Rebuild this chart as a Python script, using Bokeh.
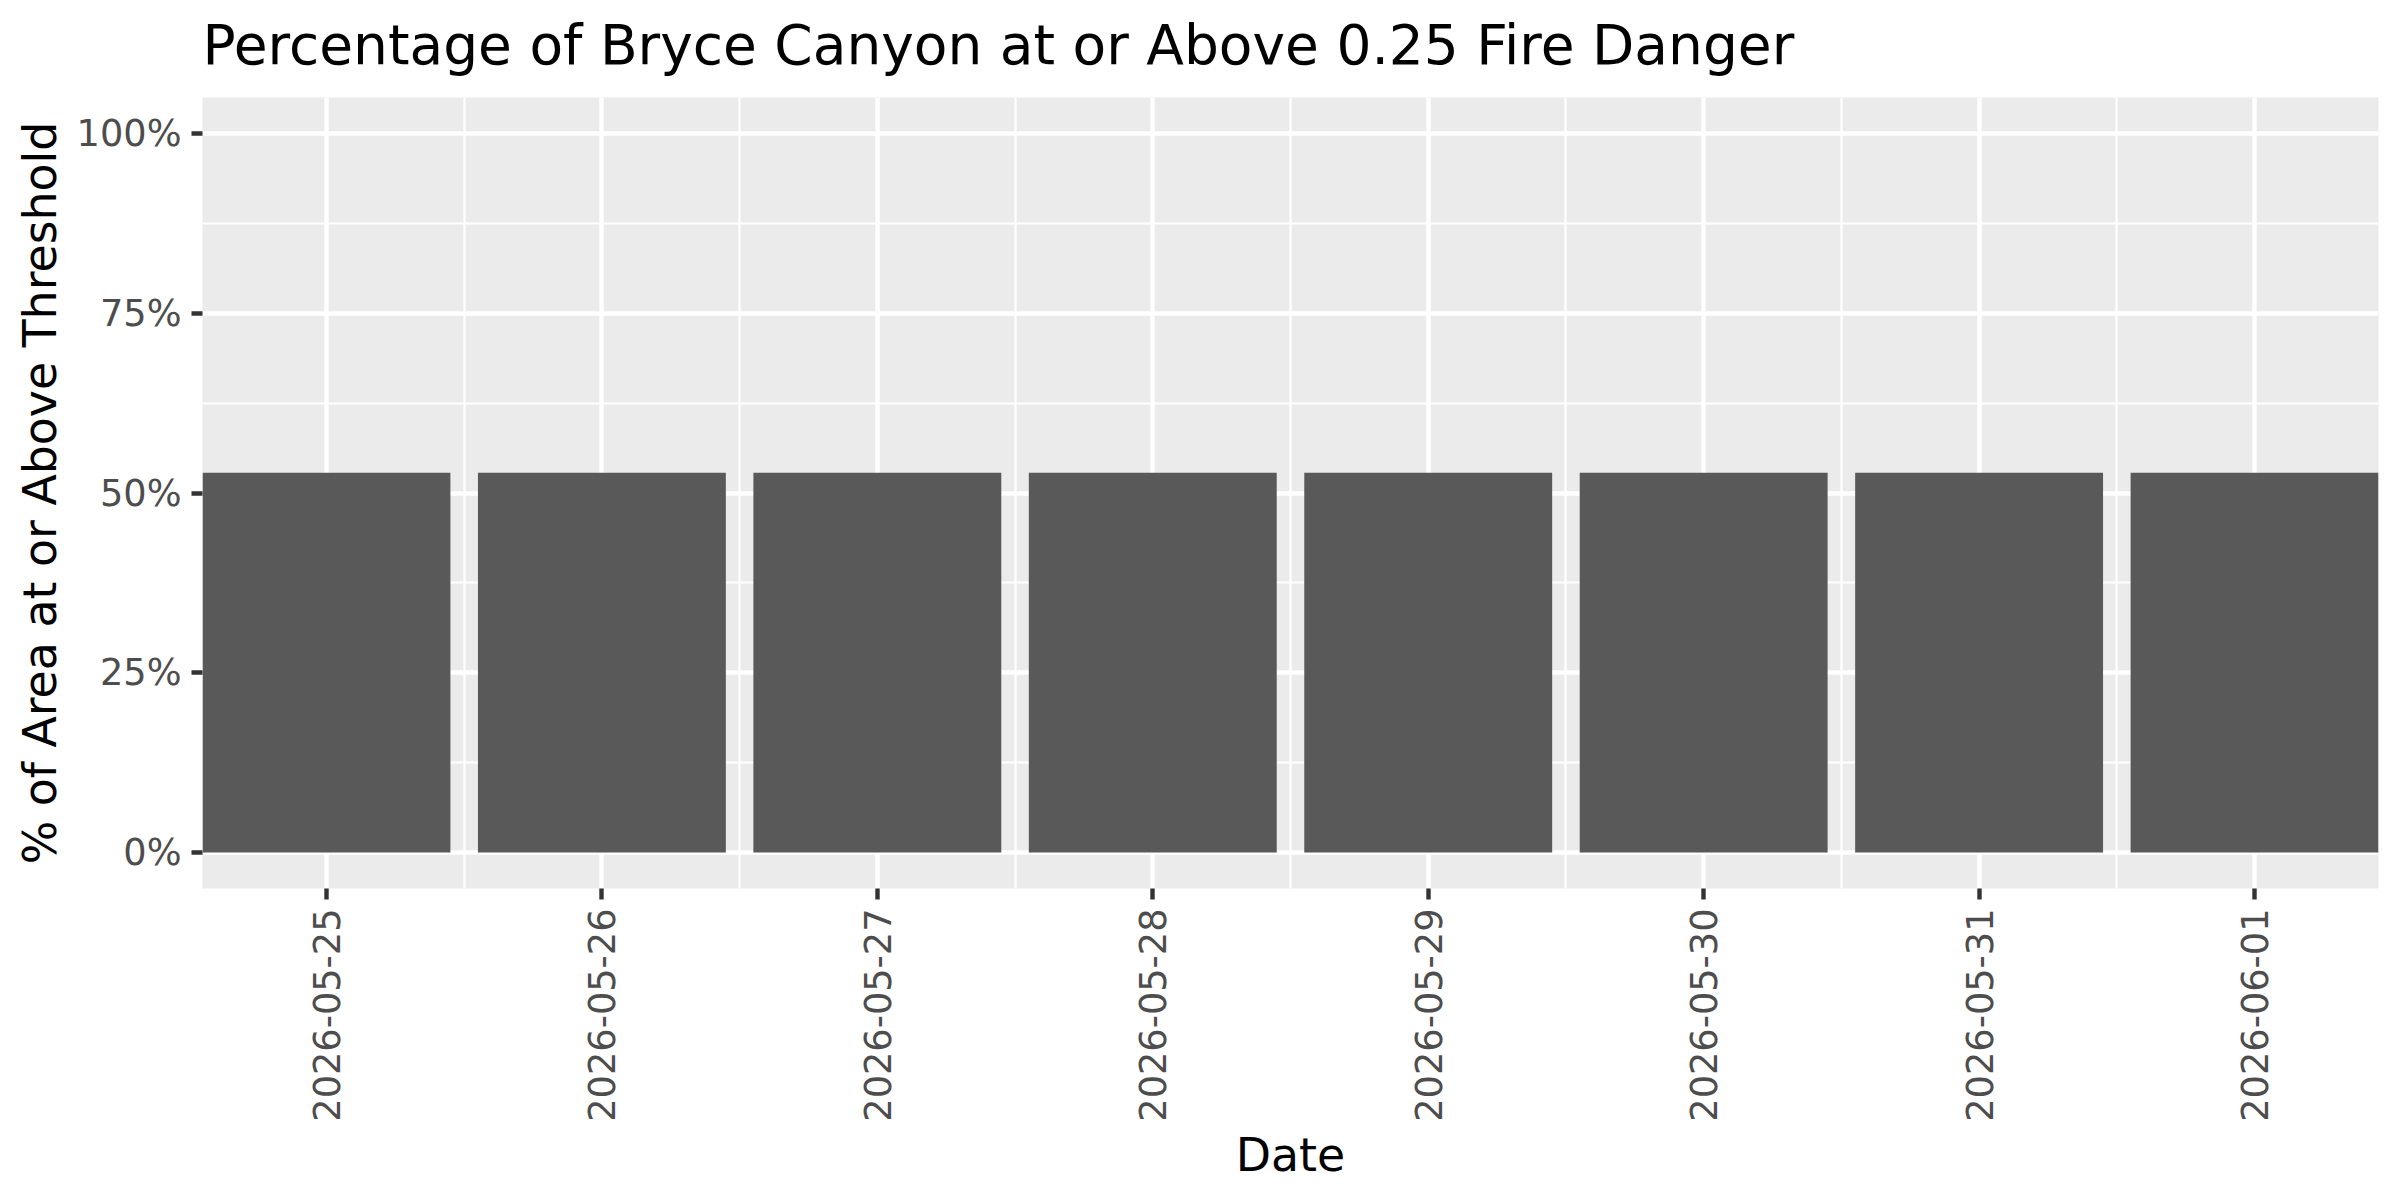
import math
from bokeh.plotting import figure
from bokeh.models import Range1d, FixedTicker, ColumnDataSource, Title
from bokeh.embed import file_html
from bokeh.resources import INLINE

# ---- data ----
dates = ["2026-05-25", "2026-05-26", "2026-05-27", "2026-05-28",
         "2026-05-29", "2026-05-30", "2026-05-31", "2026-06-01"]
pct_above = [0.528, 0.528, 0.528, 0.528, 0.528, 0.528, 0.528, 0.528]
y_ticks = [0.0, 0.25, 0.5, 0.75, 1.0]
y_tick_labels = ["0%", "25%", "50%", "75%", "100%"]
title_text = "Percentage of Bryce Canyon at or Above 0.25 Fire Danger"
x_title = "Date"
y_title = "% of Area at or Above Threshold"

FONT = "DejaVu Sans"
W, H = 2384, 1184
B_LEFT, B_RIGHT, B_TOP, B_BOTTOM = 202, 6, 97, 296

xs = list(range(len(dates)))
src = ColumnDataSource(data=dict(x=xs, top=pct_above, date=dates))

p = figure(width=W, height=H, output_backend="svg", toolbar_location=None,
           title=None,
           x_range=Range1d(-0.45, len(dates) - 1 + 0.45),
           y_range=Range1d(-0.05, 1.05),
           min_border_left=B_LEFT, min_border_right=B_RIGHT,
           min_border_top=B_TOP, min_border_bottom=B_BOTTOM,
           background_fill_color="#EBEBEB", border_fill_color="white",
           outline_line_color=None)

p.vbar(x="x", top="top", bottom=0, width=0.9, source=src,
       fill_color="#595959", line_color=None)

# small spacer between the frame and the title, then the title itself
p.add_layout(Title(text=" ", text_font_size="1px", standoff=8), "above")
p.add_layout(Title(text=title_text, text_font=FONT, text_font_size="55px",
                   text_font_style="normal", text_color="black",
                   align="left", offset=0, standoff=20,
                   vertical_align="bottom"), "above")

# axes
p.xaxis.ticker = FixedTicker(ticks=xs, minor_ticks=[i + 0.5 for i in range(-1, len(xs))])
p.xaxis.major_label_overrides = {i: d for i, d in zip(xs, dates)}
p.xaxis.major_label_orientation = math.pi / 2
p.xaxis.axis_label = x_title
p.yaxis.ticker = FixedTicker(ticks=y_ticks,
                             minor_ticks=[t + 0.125 for t in [-0.25] + y_ticks])
p.yaxis.major_label_overrides = {t: l for t, l in zip(y_ticks, y_tick_labels)}
p.yaxis.axis_label = y_title

for ax in (p.xaxis[0], p.yaxis[0]):
    ax.axis_line_color = None
    ax.major_tick_line_color = "#333333"
    ax.major_tick_line_width = 4.4
    ax.major_tick_out = 11
    ax.major_tick_in = 0
    ax.minor_tick_line_color = None
    ax.major_label_text_font = FONT
    ax.major_label_text_font_size = "36.7px"
    ax.major_label_text_color = "#4D4D4D"
    ax.axis_label_text_font = FONT
    ax.axis_label_text_font_size = "45.8px"
    ax.axis_label_text_font_style = "normal"
    ax.axis_label_text_color = "black"
p.xaxis.major_label_standoff = 9
p.yaxis.major_label_standoff = 10
p.xaxis.axis_label_standoff = 3
p.yaxis.axis_label_standoff = 7

# grids
for g in (p.xgrid[0], p.ygrid[0]):
    g.grid_line_color = "white"
    g.grid_line_width = 4.4
    g.minor_grid_line_color = "white"
    g.minor_grid_line_width = 2.2

open("out.html", "w").write(file_html(p, INLINE))
